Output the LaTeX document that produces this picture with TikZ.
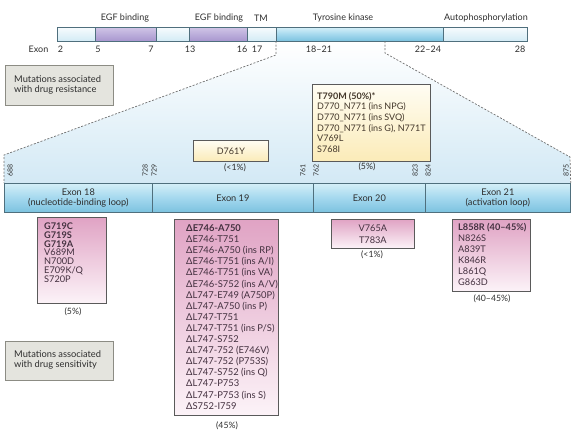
\documentclass[tikz,border=0pt]{standalone}
\usepackage{fontspec}
\setmainfont{Lato}
\definecolor{txt}{HTML}{2E2E2E}
\definecolor{barline}{HTML}{4F6F7D}
\definecolor{segL1}{HTML}{F6FBFD}
\definecolor{segL2}{HTML}{D3EBF5}
\definecolor{purp1}{HTML}{CFC4E6}
\definecolor{purp2}{HTML}{A897CF}
\definecolor{cyan1}{HTML}{D4EFF8}
\definecolor{cyan2}{HTML}{7CC2DF}
\definecolor{cyan3}{HTML}{A4D8EE}
\definecolor{bgblue}{HTML}{D3E9F5}
\definecolor{dash}{HTML}{707070}
\definecolor{gfill}{HTML}{E4E4DE}
\definecolor{gline}{HTML}{8C8C84}
\definecolor{ytop}{HTML}{FFFDF3}
\definecolor{ybot}{HTML}{FBEBB8}
\definecolor{ptop}{HTML}{E0A3C4}
\definecolor{pbot}{HTML}{FCF3F8}
\definecolor{ptxt}{HTML}{43303F}
\definecolor{ytxt}{HTML}{43372A}
\definecolor{boxline}{HTML}{5A5A5A}
\tikzset{
  seglight/.style={top color=segL1, bottom color=segL2, draw=barline, line width=0.7pt},
  segpurple/.style={top color=purp1, bottom color=purp2, draw=barline, line width=0.7pt},
  segcyan/.style={top color=cyan1, bottom color=cyan2, middle color=cyan3, draw=barline, line width=0.7pt},
  toplabel/.style={font=\fontsize{9}{10}\selectfont, text=txt, inner sep=0pt},
  exonseg/.style={top color=cyan1, bottom color=cyan2, middle color=cyan3, draw=barline, line width=0.7pt, anchor=north west, minimum height=29pt, inner sep=0pt, align=center, font=\fontsize{9.2}{10.5}\selectfont, text=txt},
  resnum/.style={rotate=90, anchor=west, font=\fontsize{7}{7}\selectfont, text=txt, inner sep=0pt},
  pct/.style={font=\fontsize{8.7}{10}\selectfont, text=txt, inner sep=0pt},
  dashline/.style={draw=dash, line width=0.7pt, dash pattern=on 2pt off 1.6pt},
  graybox/.style={fill=gfill, draw=gline, line width=0.8pt, anchor=north west, inner sep=0pt},
  graytext/.style={font=\fontsize{9.3}{10.5}\selectfont, text=txt, align=left, anchor=west, inner sep=0pt},
  ybox/.style={top color=ytop, bottom color=ybot, draw=boxline, line width=0.7pt, anchor=north west, inner sep=0pt},
  pbox/.style={top color=ptop, bottom color=pbot, draw=boxline, line width=0.7pt, anchor=north west, inner sep=0pt},
  listtext/.style={text=ptxt, align=left, anchor=north west, inner sep=0pt},
}
\begin{document}
\begin{tikzpicture}[x=1pt,y=-1pt]
\useasboundingbox (0,0) rectangle (576,432);
% background trapezoid
\shade[top color=white, bottom color=bgblue] (276,41) -- (276,55) -- (4,155) -- (4,183) -- (570,183) -- (570,157) -- (385,53) -- (385,41) -- cycle;
% top bar
\path[seglight] (57,27.5) rectangle (95,41);
\path[segpurple] (95,27.5) rectangle (156,41);
\path[seglight] (156,27.5) rectangle (189,41);
\path[segpurple] (189,27.5) rectangle (247,41);
\path[seglight] (247,27.5) rectangle (276,41);
\path[segcyan] (276,27.5) rectangle (443,41);
\path[seglight] (443,27.5) rectangle (527,41);
\node[toplabel] (l1) at (125,18) {EGF binding};
\node[toplabel] (l2) at (219,18) {EGF binding};
\node[toplabel] (l3) at (261,18) {TM};
\node[toplabel] (l4) at (343,18) {Tyrosine kinase};
\node[toplabel] (l5) at (486,18) {Autophosphorylation};
\node[toplabel] (e0) at (38.5,49) {Exon};
\node[toplabel] (e1) at (60.5,49) {2};
\node[toplabel] (e2) at (98,49) {5};
\node[toplabel] (e3) at (151,49) {7};
\node[toplabel] (e4) at (190,49) {13};
\node[toplabel] (e5) at (242,49) {16};
\node[toplabel] (e6) at (257,49) {17};
\node[toplabel] (e7) at (319,49) {18--21};
\node[toplabel] (e8) at (428,49) {22--24};
\node[toplabel] (e9) at (520,49) {28};
% exon bar
\node[exonseg, minimum width=148pt] (x18) at (4,183) {Exon 18\\(nucleotide-binding loop)};
\node[exonseg, minimum width=161pt] (x19) at (152,183) {Exon 19};
\node[exonseg, minimum width=112pt] (x20) at (313,183) {Exon 20};
\node[exonseg, minimum width=145pt] (x21) at (425,183) {Exon 21\\(activation loop)};
% dashed connectors
\coordinate (dA) at (276,41);
\coordinate (dB) at (276,55);
\coordinate (dC) at (4,155);
\coordinate (dD) at (385,41);
\coordinate (dE) at (385,53);
\coordinate (dF) at (570,157);
\draw[dashline] (dA) -- (dB) -- (dC) -- (x18.north west);
\draw[dashline] (dD) -- (dE) -- (dF) -- (x21.north east);
% residue numbers
\node[resnum] (n688) at (10,177) {688};
\node[resnum] (n728) at (145,177) {728};
\node[resnum] (n729) at (154,177) {729};
\node[resnum] (n761) at (303,177) {761};
\node[resnum] (n762) at (316,177) {762};
\node[resnum] (n823) at (415,177) {823};
\node[resnum] (n824) at (428,177) {824};
\node[resnum] (n875) at (566,177) {875};
\node[pct] (p19a) at (235,168) {(<1\%)};
\node[pct] (p20a) at (367,167) {(5\%)};
% gray boxes
\node[graybox, minimum width=108pt, minimum height=40pt] (gres) at (5,65) {};
\node[graytext] (gres-t) at (14,85) {Mutations associated\\with drug resistance};
\node[graybox, minimum width=108pt, minimum height=39pt] (gsen) at (5,341) {};
\node[graytext] (gsen-t) at (14,360) {Mutations associated\\with drug sensitivity};
% yellow boxes
\node[ybox, minimum width=75pt, minimum height=21pt] (bD761) at (193,140) {};
\node[pct, text=ytxt, font=\fontsize{9}{10}\selectfont] (tD761) at (bD761.center) {D761Y};
\node[ybox, minimum width=118pt, minimum height=77pt] (bT790) at (312,84) {};
\node[listtext, text=ytxt, font=\fontsize{9}{10.6}\selectfont] (tT790) at (317,92) {\textbf{T790M (50\%)*}\\D770\_N771 (ins NPG)\\D770\_N771 (ins SVQ)\\D770\_N771 (ins G), N771T\\V769L\\S768I};
% pink boxes
\node[pbox, minimum width=69pt, minimum height=86pt] (b18) at (37,217) {};
\node[listtext, font=\fontsize{9.2}{8.8}\selectfont] (t18) at (44,222.5) {\textbf{G719C}\\\textbf{G719S}\\\textbf{G719A}\\V689M\\N700D\\E709K/Q\\S720P};
\node[pct] (p18) at (73,312) {(5\%)};
\node[pbox, minimum width=104pt, minimum height=196pt] (b19) at (174,219) {};
\node[listtext, font=\fontsize{9.4}{11.1}\selectfont] (t19) at (186,224.5) {\textbf{ΔE746-A750}\\ΔE746-T751\\ΔE746-A750 (ins RP)\\ΔE746-T751 (ins A/I)\\ΔE746-T751 (ins VA)\\ΔE746-S752 (ins A/V)\\ΔL747-E749 (A750P)\\ΔL747-A750 (ins P)\\ΔL747-T751\\ΔL747-T751 (ins P/S)\\ΔL747-S752\\ΔL747-752 (E746V)\\ΔL747-752 (P753S)\\ΔL747-S752 (ins Q)\\ΔL747-P753\\ΔL747-P753 (ins S)\\ΔS752-I759};
\node[pct] (p19) at (227,426) {(45\%)};
\node[pbox, minimum width=83pt, minimum height=29pt] (b20) at (331,219) {};
\node[listtext, anchor=center, align=center, font=\fontsize{9.2}{12}\selectfont] (t20) at (b20.center) {V765A\\T783A};
\node[pct] (p20) at (372,255) {(<1\%)};
\node[pbox, minimum width=78pt, minimum height=72pt] (b21) at (452,219) {};
\node[listtext, font=\fontsize{9.2}{11}\selectfont] (t21) at (458,223.5) {\textbf{L858R (40--45\%)}\\N826S\\A839T\\K846R\\L861Q\\G863D};
\node[pct] (p21) at (492,299) {(40--45\%)};
\end{tikzpicture}
\end{document}
